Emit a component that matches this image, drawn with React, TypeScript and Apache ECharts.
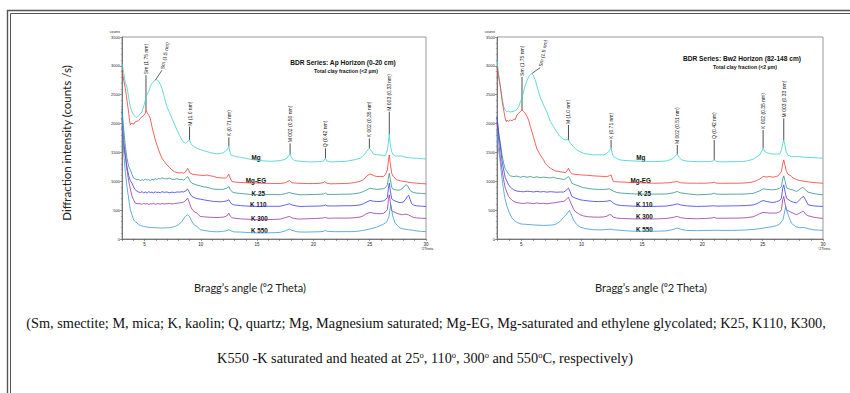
import React, { useEffect, useRef } from "react";
import * as echarts from "echarts";

// ---------- DATA ----------
const panelTitles = ["BDR Series: Ap Horizon (0-20 cm)", "BDR Series: Bw2 Horizon (82-148 cm)"];
const panelSubtitle = "Total clay fraction (<2 µm)";
const seriesNames = ["Mg", "Mg-EG", "K 25", "K 110", "K 300", "K 550"];
const yTicks = [0, 500, 1000, 1500, 2000, 2500, 3000, 3500];
const xTickLabels = [5, 10, 15, 20, 25, 30];

// Panel 1: Ap horizon
const apMg = [[3.0,3040],[3.15,2880],[3.3,2700],[3.44,2637],[3.59,2450],[3.74,2291],[3.89,2200],[4.03,2147],[4.18,2120],[4.33,2107],[4.48,2140],[4.63,2176],[4.77,2200],[4.92,2291],[5.07,2400],[5.13,2464],[5.22,2500],[5.37,2550],[5.51,2640],[5.66,2694],[5.81,2730],[5.96,2752],[6.1,2760],[6.25,2740],[6.4,2680],[6.55,2608],[6.77,2450],[6.99,2291],[7.22,2190],[7.44,2090],[7.66,1990],[7.88,1888],[8.1,1800],[8.32,1716],[8.47,1680],[8.62,1658],[8.83,1690],[9.0,1716],[9.1,1660],[9.21,1629],[9.43,1600],[9.65,1572],[9.95,1550],[10.24,1531],[10.54,1515],[10.84,1497],[11.13,1485],[11.43,1474],[11.73,1480],[12.02,1497],[12.31,1543],[12.49,1600],[12.6,1500],[12.67,1457],[12.91,1439],[13.2,1425],[13.5,1416],[13.95,1400],[14.38,1382],[14.8,1370],[15.27,1359],[15.7,1352],[16.16,1347],[16.6,1350],[17.05,1359],[17.4,1375],[17.64,1399],[17.8,1440],[17.93,1474],[18.05,1410],[18.23,1370],[18.52,1355],[18.82,1347],[19.25,1340],[19.71,1336],[20.15,1338],[20.59,1341],[20.9,1350],[21.07,1399],[21.2,1350],[21.48,1336],[21.9,1338],[22.37,1341],[22.8,1345],[23.26,1359],[23.7,1375],[24.14,1399],[24.44,1440],[24.73,1520],[24.97,1572],[25.18,1520],[25.33,1474],[25.62,1460],[25.92,1457],[26.21,1445],[26.36,1439],[26.5,1500],[26.57,1543],[26.66,1680],[26.74,1819],[26.82,1650],[26.95,1513],[27.1,1460],[27.25,1439],[27.5,1436],[27.84,1439],[28.1,1420],[28.43,1410],[28.8,1402],[29.17,1399],[29.6,1392],[30.0,1387]];
const apMgEG = [[3.0,2925],[3.15,2750],[3.3,2608],[3.44,2400],[3.59,2200],[3.67,2050],[3.74,1975],[3.82,2000],[3.89,2003],[4.03,1990],[4.18,2032],[4.33,2040],[4.48,2049],[4.63,2090],[4.77,2119],[4.92,2140],[5.07,2176],[5.13,2245],[5.22,2190],[5.37,2147],[5.51,2090],[5.66,1946],[5.81,1831],[5.96,1716],[6.1,1630],[6.25,1543],[6.4,1470],[6.55,1399],[6.77,1340],[6.99,1284],[7.22,1240],[7.44,1197],[7.66,1165],[7.88,1151],[8.1,1145],[8.32,1150],[8.47,1140],[8.62,1160],[8.83,1226],[8.95,1180],[9.06,1140],[9.3,1120],[9.65,1111],[9.95,1105],[10.24,1100],[10.54,1108],[10.84,1095],[11.13,1085],[11.43,1065],[11.73,1060],[12.02,1056],[12.17,1054],[12.35,1080],[12.49,1123],[12.6,1060],[12.76,996],[13.1,985],[13.5,979],[14.0,975],[14.38,970],[14.8,972],[15.27,967],[15.7,965],[16.16,963],[16.6,962],[17.05,961],[17.5,975],[17.87,1013],[18.1,975],[18.52,967],[19.0,963],[19.5,961],[20.0,961],[20.5,963],[20.85,975],[21.0,996],[21.15,970],[21.48,956],[22.0,958],[22.37,960],[22.8,962],[23.26,967],[23.7,980],[24.14,1000],[24.44,1025],[24.73,1090],[25.03,1128],[25.33,1100],[25.62,1082],[25.92,1085],[26.21,1082],[26.4,1120],[26.57,1197],[26.66,1350],[26.74,1457],[26.82,1320],[26.95,1140],[27.1,1080],[27.4,1025],[27.8,1005],[28.28,990],[28.7,975],[29.17,967],[29.6,960],[30.0,956]];
const apK25 = [[3.0,2250],[3.15,1900],[3.3,1600],[3.44,1400],[3.59,1260],[3.74,1197],[3.89,1120],[4.03,1054],[4.18,1040],[4.33,1025],[4.48,1030],[4.63,1010],[4.77,1030],[4.92,1015],[5.07,1040],[5.22,1020],[5.37,1030],[5.51,1010],[5.66,1035],[5.81,1025],[5.96,1045],[6.1,1030],[6.25,1050],[6.4,1040],[6.55,1060],[6.77,1045],[6.99,1040],[7.22,1055],[7.44,1035],[7.66,1030],[7.88,1045],[8.1,1030],[8.32,1035],[8.47,1020],[8.62,1040],[8.83,1082],[8.95,1040],[9.06,1000],[9.21,967],[9.43,950],[9.65,935],[9.95,920],[10.24,905],[10.54,895],[10.84,880],[11.13,864],[11.43,860],[11.73,858],[12.02,862],[12.31,880],[12.49,910],[12.6,860],[12.76,820],[12.91,806],[13.2,795],[13.5,790],[13.95,780],[14.38,772],[14.8,770],[15.27,766],[15.7,768],[16.16,770],[16.6,770],[17.05,768],[17.5,785],[17.87,806],[18.1,790],[18.52,775],[18.82,766],[19.3,768],[19.71,770],[20.2,772],[20.59,775],[20.9,780],[21.07,796],[21.2,775],[21.48,772],[21.9,772],[22.37,775],[22.8,776],[23.26,777],[23.7,785],[24.14,800],[24.44,823],[24.73,850],[25.03,881],[25.33,868],[25.62,860],[25.92,864],[26.21,870],[26.4,890],[26.57,938],[26.66,1060],[26.74,1140],[26.82,1050],[26.95,900],[27.04,869],[27.25,852],[27.5,845],[27.7,850],[27.99,890],[28.15,930],[28.28,938],[28.4,910],[28.6,840],[28.87,806],[29.17,795],[29.6,790],[30.0,783]];
const apK110 = [[3.0,2100],[3.15,1700],[3.3,1450],[3.44,1250],[3.59,1100],[3.74,1010],[3.89,967],[4.03,900],[4.18,852],[4.33,830],[4.48,812],[4.63,806],[4.77,820],[4.92,800],[5.07,815],[5.22,795],[5.37,820],[5.51,805],[5.66,812],[5.81,798],[5.96,818],[6.1,805],[6.25,812],[6.4,800],[6.55,820],[6.77,808],[6.99,815],[7.22,800],[7.44,812],[7.66,805],[7.88,815],[8.1,812],[8.32,820],[8.47,815],[8.62,830],[8.83,864],[8.95,820],[9.06,780],[9.21,737],[9.43,715],[9.65,700],[9.95,690],[10.24,680],[10.54,668],[10.84,660],[11.13,651],[11.43,648],[11.73,645],[12.02,650],[12.31,660],[12.49,680],[12.6,640],[12.76,605],[12.91,593],[13.2,585],[13.5,580],[13.95,572],[14.38,568],[14.8,566],[15.27,564],[15.7,566],[16.16,567],[16.6,566],[17.05,568],[17.5,590],[17.87,610],[18.1,590],[18.52,572],[18.82,564],[19.3,566],[19.71,568],[20.2,570],[20.59,572],[20.9,578],[21.07,590],[21.2,575],[21.48,572],[21.9,572],[22.37,574],[22.8,576],[23.26,576],[23.7,580],[24.14,590],[24.44,610],[24.73,640],[25.03,668],[25.33,655],[25.62,650],[25.92,651],[26.21,660],[26.4,680],[26.57,720],[26.66,880],[26.74,967],[26.82,850],[26.95,700],[27.04,680],[27.25,660],[27.5,640],[27.7,630],[27.99,640],[28.2,690],[28.35,740],[28.46,760],[28.6,680],[28.73,610],[28.87,590],[29.17,575],[29.6,568],[30.0,564]];
const apK300 = [[3.0,1950],[3.15,1600],[3.3,1428],[3.44,1200],[3.59,1010],[3.74,870],[3.89,737],[4.03,680],[4.18,622],[4.33,615],[4.48,610],[4.63,612],[4.77,600],[4.92,618],[5.07,605],[5.22,615],[5.37,598],[5.51,612],[5.66,605],[5.81,618],[5.96,600],[6.1,610],[6.25,612],[6.4,602],[6.55,615],[6.77,608],[6.99,610],[7.22,618],[7.44,605],[7.66,615],[7.88,620],[8.1,625],[8.32,630],[8.47,640],[8.62,660],[8.83,708],[9.0,622],[9.1,560],[9.21,520],[9.43,470],[9.65,449],[9.95,391],[10.24,385],[10.54,380],[10.84,376],[11.13,374],[11.43,372],[11.73,375],[12.02,380],[12.31,400],[12.49,449],[12.6,400],[12.76,370],[12.91,363],[13.2,355],[13.5,350],[13.95,345],[14.38,340],[14.8,337],[15.27,334],[15.7,336],[16.16,338],[16.6,340],[17.05,345],[17.5,370],[17.87,391],[18.1,365],[18.52,350],[18.82,345],[19.3,350],[19.71,352],[20.2,355],[20.59,360],[20.9,365],[21.07,374],[21.2,362],[21.48,360],[21.9,362],[22.37,363],[22.8,362],[23.26,363],[23.7,370],[24.14,380],[24.44,403],[24.73,440],[25.03,461],[25.33,449],[25.62,440],[25.92,438],[26.21,445],[26.4,470],[26.57,507],[26.66,680],[26.74,766],[26.82,650],[26.95,490],[27.04,478],[27.25,460],[27.5,440],[27.84,420],[27.99,425],[28.2,430],[28.43,420],[28.7,390],[28.87,375],[29.17,365],[29.6,360],[30.0,357]];
const apK550 = [[3.0,2200],[3.07,1900],[3.15,1485],[3.3,1150],[3.44,910],[3.59,700],[3.74,507],[3.89,420],[4.03,334],[4.18,300],[4.33,280],[4.48,248],[4.63,235],[4.77,225],[4.92,218],[5.22,207],[5.51,200],[5.81,196],[6.1,195],[6.4,190],[6.77,192],[7.22,196],[7.44,205],[7.66,215],[7.88,230],[8.1,260],[8.32,305],[8.47,350],[8.62,390],[8.83,420],[9.0,390],[9.21,300],[9.43,240],[9.65,219],[9.95,161],[10.24,150],[10.54,140],[10.84,132],[11.13,127],[11.43,125],[11.73,128],[12.02,135],[12.31,145],[12.49,161],[12.7,140],[12.91,125],[13.2,121],[13.5,121],[13.95,115],[14.38,110],[14.8,106],[15.27,104],[15.7,106],[16.16,108],[16.6,110],[17.05,115],[17.5,140],[17.87,173],[18.1,150],[18.52,127],[18.82,121],[19.3,120],[19.71,122],[20.2,124],[20.59,126],[20.9,132],[21.07,150],[21.2,135],[21.48,130],[21.9,127],[22.37,127],[22.8,128],[23.26,127],[23.7,130],[24.14,140],[24.44,150],[24.73,161],[25.03,175],[25.33,190],[25.62,205],[25.92,230],[26.21,255],[26.5,290],[26.7,380],[26.86,593],[26.95,520],[27.04,400],[27.25,276],[27.5,230],[27.69,190],[27.99,175],[28.43,161],[28.87,150],[29.17,140],[29.6,132],[30.0,127]];

// Panel 2: Bw2 horizon
const bwMg = [[3.0,3097],[3.14,2850],[3.28,2637],[3.42,2450],[3.55,2291],[3.69,2230],[3.83,2205],[3.96,2215],[4.1,2200],[4.24,2205],[4.38,2215],[4.51,2225],[4.65,2245],[4.79,2290],[4.93,2378],[5.07,2435],[5.2,2560],[5.34,2665],[5.48,2740],[5.62,2809],[5.76,2850],[5.89,2867],[6.03,2830],[6.17,2752],[6.31,2650],[6.44,2550],[6.58,2460],[6.86,2320],[7.13,2200],[7.27,2119],[7.41,2040],[7.68,1946],[7.96,1850],[8.23,1773],[8.51,1730],[8.65,1716],[8.8,1720],[8.92,1716],[9.05,1670],[9.2,1629],[9.34,1600],[9.61,1543],[9.89,1510],[10.16,1485],[10.55,1470],[10.99,1457],[11.4,1460],[11.82,1457],[12.09,1480],[12.23,1513],[12.45,1572],[12.55,1480],[12.64,1428],[12.92,1395],[13.19,1370],[13.6,1360],[14.3,1353],[14.9,1347],[15.4,1345],[15.95,1341],[16.5,1345],[17.0,1352],[17.3,1370],[17.6,1399],[17.93,1474],[18.1,1410],[18.29,1370],[18.7,1350],[19.1,1345],[19.53,1341],[20.0,1340],[20.63,1341],[20.85,1350],[20.99,1370],[21.15,1345],[21.46,1336],[22.0,1338],[22.5,1340],[23.11,1341],[23.66,1350],[24.21,1382],[24.49,1420],[24.77,1457],[25.04,1572],[25.2,1510],[25.32,1497],[25.59,1480],[25.87,1474],[26.14,1470],[26.42,1474],[26.56,1543],[26.66,1650],[26.75,1716],[26.85,1620],[26.97,1497],[27.11,1450],[27.38,1428],[27.8,1425],[28.07,1428],[28.5,1415],[29.17,1410],[29.6,1405],[30.0,1399]];
const bwMgEG = [[3.0,2982],[3.14,2800],[3.28,2637],[3.42,2400],[3.55,2234],[3.69,2080],[3.77,2032],[3.83,2060],[3.96,2040],[4.1,2061],[4.24,2050],[4.38,2075],[4.51,2070],[4.65,2147],[4.79,2180],[4.93,2205],[5.07,2234],[5.2,2210],[5.34,2176],[5.48,2120],[5.62,2061],[5.76,1950],[5.89,1860],[6.03,1760],[6.17,1658],[6.31,1560],[6.58,1457],[6.86,1370],[6.99,1313],[7.27,1250],[7.55,1209],[7.82,1180],[8.1,1169],[8.37,1160],[8.65,1150],[8.8,1180],[8.92,1226],[9.05,1170],[9.2,1130],[9.47,1120],[9.89,1111],[10.4,1105],[10.99,1094],[11.5,1088],[12.09,1082],[12.3,1095],[12.45,1111],[12.55,1040],[12.64,996],[13.0,990],[13.6,985],[14.02,979],[14.7,975],[15.4,970],[15.95,967],[16.6,968],[17.3,975],[17.7,990],[17.93,996],[18.2,975],[18.7,968],[19.53,967],[20.3,967],[20.8,975],[20.99,984],[21.15,968],[21.6,965],[22.3,967],[23.11,967],[23.8,975],[24.21,990],[24.49,1013],[24.77,1040],[25.04,1082],[25.32,1075],[25.59,1082],[25.87,1070],[26.14,1085],[26.28,1094],[26.45,1140],[26.56,1169],[26.66,1300],[26.75,1370],[26.85,1280],[26.97,1169],[27.11,1120],[27.38,1090],[27.52,1054],[27.8,1030],[28.07,1013],[28.35,1005],[28.76,990],[29.17,980],[29.6,972],[30.0,967]];
const bwK25 = [[3.0,2119],[3.14,1850],[3.28,1658],[3.42,1450],[3.55,1313],[3.69,1210],[3.83,1169],[3.96,1120],[4.1,1094],[4.38,1082],[4.65,1090],[4.93,1070],[5.2,1085],[5.48,1070],[5.76,1082],[6.03,1065],[6.31,1078],[6.58,1060],[6.86,1072],[7.13,1065],[7.41,1058],[7.68,1070],[7.96,1050],[8.23,1045],[8.51,1030],[8.65,1040],[8.92,1082],[9.05,1040],[9.2,967],[9.47,940],[9.89,910],[10.16,890],[10.55,875],[10.99,864],[11.4,860],[11.82,858],[12.09,862],[12.3,870],[12.45,852],[12.64,830],[12.92,806],[13.3,795],[14.02,785],[14.7,780],[15.4,777],[16.2,778],[17.0,780],[17.6,800],[17.93,823],[18.2,800],[18.7,785],[19.53,766],[20.3,770],[20.8,780],[20.99,794],[21.15,778],[21.8,775],[22.5,777],[23.11,777],[23.66,780],[24.21,790],[24.49,812],[24.77,835],[25.04,869],[25.32,860],[25.59,855],[25.87,852],[26.14,860],[26.42,880],[26.56,910],[26.66,1040],[26.75,1094],[26.85,1010],[26.97,900],[27.02,881],[27.3,860],[27.52,850],[27.8,823],[28.07,860],[28.22,885],[28.35,892],[28.5,860],[28.76,812],[29.17,790],[29.6,775],[30.0,766]];
const bwK110 = [[3.0,2119],[3.14,1800],[3.28,1600],[3.42,1350],[3.55,1197],[3.69,1060],[3.96,938],[4.1,900],[4.38,852],[4.65,830],[4.93,823],[5.2,818],[5.48,828],[5.76,823],[6.03,815],[6.31,826],[6.58,815],[6.86,822],[7.13,812],[7.41,820],[7.68,815],[7.96,810],[8.23,815],[8.51,812],[8.65,830],[8.92,881],[9.05,820],[9.2,737],[9.47,710],[9.89,679],[10.16,670],[10.55,660],[10.99,651],[11.4,648],[11.82,650],[12.09,655],[12.3,665],[12.45,660],[12.64,620],[12.92,593],[13.3,580],[14.02,572],[14.7,566],[15.4,564],[16.2,566],[17.0,570],[17.6,590],[17.93,610],[18.2,590],[18.7,575],[19.53,564],[20.3,568],[20.8,573],[20.99,576],[21.15,570],[21.8,572],[22.5,574],[23.11,576],[23.66,580],[24.21,590],[24.49,610],[24.77,640],[25.04,668],[25.32,650],[25.59,640],[25.87,633],[26.14,645],[26.42,668],[26.56,708],[26.66,880],[26.75,938],[26.85,830],[26.97,708],[27.02,708],[27.3,660],[27.52,640],[27.8,622],[28.07,680],[28.25,720],[28.4,737],[28.55,680],[28.76,593],[29.17,575],[29.6,568],[30.0,564]];
const bwK300 = [[3.0,2032],[3.14,1700],[3.28,1400],[3.42,1200],[3.55,1025],[3.69,880],[3.96,737],[4.1,700],[4.38,650],[4.65,630],[4.93,622],[5.2,615],[5.48,625],[5.76,620],[6.03,612],[6.31,625],[6.58,615],[6.86,618],[7.13,610],[7.41,620],[7.68,625],[7.96,635],[8.23,645],[8.51,651],[8.65,670],[8.92,725],[9.0,680],[9.12,622],[9.34,520],[9.47,478],[9.89,420],[10.16,400],[10.55,385],[10.99,380],[11.4,378],[11.82,382],[12.09,395],[12.3,420],[12.45,420],[12.64,375],[12.92,363],[13.3,355],[14.02,350],[14.7,347],[15.4,346],[16.2,348],[17.0,355],[17.6,375],[17.93,391],[18.2,370],[18.7,355],[19.53,351],[20.3,355],[20.8,365],[20.99,374],[21.15,360],[21.8,360],[22.5,362],[23.11,363],[23.66,370],[24.21,385],[24.49,410],[24.77,440],[25.04,461],[25.32,455],[25.59,449],[25.87,449],[26.14,450],[26.42,470],[26.56,507],[26.66,680],[26.75,737],[26.85,620],[26.97,507],[27.02,507],[27.3,470],[27.52,449],[27.8,420],[28.07,450],[28.25,470],[28.4,478],[28.55,430],[28.76,403],[29.17,380],[29.6,365],[30.0,357]];
const bwK550 = [[3.0,1888],[3.08,1600],[3.22,1428],[3.36,1150],[3.5,910],[3.66,700],[3.83,564],[4.03,450],[4.24,363],[4.45,320],[4.65,288],[5.0,260],[5.34,255],[5.76,248],[6.31,240],[6.86,236],[7.41,240],[7.82,250],[8.23,305],[8.5,370],[8.84,449],[9.0,495],[9.12,440],[9.34,330],[9.6,250],[9.89,207],[10.3,180],[10.99,161],[11.6,158],[12.09,165],[12.45,170],[12.64,160],[13.2,150],[14.02,138],[14.7,135],[15.4,132],[16.2,135],[17.0,140],[17.6,165],[17.93,190],[18.2,170],[18.7,148],[19.53,145],[20.3,148],[20.91,150],[21.15,152],[21.8,148],[22.5,150],[23.11,152],[23.66,158],[24.21,165],[24.77,180],[25.04,190],[25.59,205],[26.14,230],[26.42,260],[26.69,340],[26.91,564],[27.02,480],[27.11,420],[27.38,276],[27.52,250],[27.8,210],[28.07,195],[28.4,200],[28.76,180],[29.17,160],[29.6,155],[30.0,150]];

// peak markers: label, 2θ, value at peak, value at top of the marker line
const apPeaks = [
  ["Sm (1.75 nm)", 5.13, 2245, 2838],
  ["M (1.0 nm)", 9.0, 1716, 1946],
  ["K (0.71 nm)", 12.49, 1600, 1762],
  ["M 002 (0.50 nm)", 17.93, 1474, 1658],
  ["Q (0.42 nm)", 21.07, 1399, 1572],
  ["K 002 (0.35 nm)", 24.97, 1572, 1744],
  ["M 003 (0.33 nm)", 26.74, 1819, 2205],
];
const bwPeaks = [
  ["Sm (1.75 nm)", 5.07, 2234, 2809],
  ["M (1.0 nm)", 8.92, 1716, 1975],
  ["K (0.71 nm)", 12.45, 1572, 1716],
  ["M 002 (0.51 nm)", 17.93, 1474, 1629],
  ["Q (0.42 nm)", 20.99, 1370, 1716],
  ["K 002 (0.35 nm)", 25.04, 1572, 1888],
  ["M 003 (0.33 nm)", 26.75, 1716, 2090],
];
// leader-line peak: label, peak 2θ, peak value, text 2θ, text value
const apSm15 = ["Sm (1.5 nm)", 5.96, 2752, 6.55, 2925];
const bwSm15 = ["Sm (1.5 nm)", 5.89, 2867, 6.58, 2970];

// where the series names sit (2θ, counts)
const apNamePos = [[14.9, 1416], [14.9, 1013], [15.1, 795], [15.1, 605], [15.2, 363], [15.2, 144]];
const bwNamePos = [[14.9, 1410], [14.9, 1013], [15.2, 795], [15.2, 605], [15.2, 385], [15.2, 170]];

const colors = ["#3fcfcf", "#f43a3a", "#2f9484", "#3a3af2", "#9b369f", "#3a9bd6"];

const captionLine1 = "(Sm, smectite; M, mica; K, kaolin; Q, quartz; Mg, Magnesium saturated; Mg-EG, Mg-saturated and ethylene glycolated; K25, K110, K300,";

export default function App() {
  const ref = useRef<HTMLDivElement>(null);
  useEffect(() => {
    document.body.style.margin = "0";
    const chart = echarts.init(ref.current!, null, { renderer: "svg" });
    const sans = "Liberation Sans";
    const panels = [
      { data: [apMg, apMgEG, apK25, apK110, apK300, apK550], peaks: apPeaks, sm: apSm15, names: apNamePos },
      { data: [bwMg, bwMgEG, bwK25, bwK110, bwK300, bwK550], peaks: bwPeaks, sm: bwSm15, names: bwNamePos },
    ];
    const grids = [
      { left: 122, top: 37, width: 304, height: 202 },
      { left: 497, top: 37, width: 326, height: 202 },
    ];
    const xAxes = grids.map((_, i) => ({
      type: "value", gridIndex: i, min: 3, max: 30, interval: 1,
      axisLine: { lineStyle: { color: "#777", width: 1 } },
      axisTick: { length: 2, lineStyle: { color: "#555", width: 0.6 } },
      splitLine: { show: false },
      axisLabel: {
        interval: 0, fontSize: 4.5, color: "#222", margin: 3, fontFamily: sans,
        formatter: (v: number) => (xTickLabels.indexOf(v) >= 0 ? String(v) : ""),
      },
    }));
    const yAxes = grids.map((_, i) => ({
      type: "value", gridIndex: i, min: 0, max: 3500, interval: 500,
      axisLine: { show: true, lineStyle: { color: "#777", width: 1 } },
      axisTick: { show: true, length: 2, lineStyle: { color: "#555", width: 0.6 } },
      minorTick: { show: true, splitNumber: 5, length: 1.2, lineStyle: { color: "#777", width: 0.5 } },
      splitLine: { show: false },
      axisLabel: { fontSize: 4, color: "#222", margin: 2, fontFamily: sans,
        formatter: (v: number) => (yTicks.indexOf(v) >= 0 ? String(v) : "") },
    }));
    const series: any[] = [];
    panels.forEach((p, pi) => {
      p.data.forEach((d, si) => {
        series.push({
          type: "line", name: seriesNames[si] + pi, xAxisIndex: pi, yAxisIndex: pi, data: d,
          symbol: "none", showSymbol: false, silent: true,
          lineStyle: { width: 0.8, color: colors[si] },
        });
      });
    });
    chart.setOption({
      animation: false,
      backgroundColor: "#fff",
      grid: grids.map((g) => ({ ...g, show: true, borderColor: "#999", borderWidth: 1, backgroundColor: "transparent" })),
      xAxis: xAxes,
      yAxis: yAxes,
      series,
    });

    const g: any[] = [];
    // page frame (double line)
    g.push({ type: "rect", shape: { x: 7.5, y: 10.5, width: 900, height: 500 }, style: { fill: "none", stroke: "#555", lineWidth: 1.4 }, silent: true });
    g.push({ type: "rect", shape: { x: 10.5, y: 13.5, width: 900, height: 500 }, style: { fill: "none", stroke: "#555", lineWidth: 1 }, silent: true });

    panels.forEach((p, pi) => {
      const px = (x: number, y: number) => chart.convertToPixel({ gridIndex: pi } as any, [x, y]) as number[];
      const cx = pi === 0 ? 343 : 742;
      g.push({ type: "text", x: cx, y: pi === 0 ? 62 : 58, style: { text: panelTitles[pi], font: `bold 6.6px ${sans}`, fill: "#111", align: "center", verticalAlign: "middle" } });
      g.push({ type: "text", x: cx + 3, y: pi === 0 ? 71 : 67, style: { text: panelSubtitle, font: `bold 5.2px ${sans}`, fill: "#111", align: "center", verticalAlign: "middle" } });
      const top = px(3, 3500);
      g.push({ type: "text", x: top[0] - 2, y: top[1] - 3, style: { text: "counts", font: `3.5px ${sans}`, fill: "#222", align: "right", verticalAlign: "bottom" } });
      const end = px(30, 0);
      g.push({ type: "text", x: end[0] + 1, y: end[1] + 8, style: { text: "°2Theta", font: `3.5px ${sans}`, fill: "#222", align: "center", verticalAlign: "top" } });
      p.peaks.forEach((m: any) => {
        const a = px(m[1], m[2]);
        const b = px(m[1], m[3]);
        g.push({ type: "line", shape: { x1: a[0], y1: a[1], x2: b[0], y2: b[1] }, style: { stroke: "#222", lineWidth: 0.8 }, silent: true });
        g.push({ type: "text", x: b[0], y: b[1] - 1, rotation: Math.PI / 2, style: { text: m[0], font: `5px ${sans}`, fill: "#111", align: "left", verticalAlign: "middle" } });
      });
      const s: any = p.sm;
      const a = px(s[1], s[2]);
      const b = px(s[3], s[4]);
      g.push({ type: "line", shape: { x1: a[0], y1: a[1], x2: b[0], y2: b[1] }, style: { stroke: "#222", lineWidth: 0.7 }, silent: true });
      g.push({ type: "text", x: b[0], y: b[1] - 1, rotation: Math.PI / 2 - 0.2, style: { text: s[0], font: `5px ${sans}`, fill: "#111", align: "left", verticalAlign: "middle" } });
      p.names.forEach((n: number[], si: number) => {
        const q = px(n[0], n[1]);
        g.push({ type: "text", x: q[0], y: q[1], style: { text: seriesNames[si], font: `bold 6.3px ${sans}`, fill: "#111", align: "center", verticalAlign: "middle" } });
      });
      g.push({ type: "text", x: pi === 0 ? 250 : 651, y: 287, style: { text: "Bragg’s angle (⁰2 Theta)", font: `11px Lato`, fill: "#222", align: "center", verticalAlign: "middle" } });
    });
    g.push({ type: "text", x: 66, y: 143, rotation: Math.PI / 2, style: { text: "Diffraction intensity (counts /s)", font: `11.5px Lato`, fill: "#222", align: "center", verticalAlign: "middle" } });
    g.push({ type: "text", x: 426, y: 323, style: { text: captionLine1, font: `14.3px "Liberation Serif"`, fill: "#111", align: "center", verticalAlign: "middle" } });
    g.push({
      type: "text", x: 425, y: 358,
      style: {
        text: "K550 -K saturated and heated at 25{s|o}, 110{s|o}, 300{s|o} and 550{s|o}C, respectively)",
        font: `14.3px "Liberation Serif"`, fill: "#111", align: "center", verticalAlign: "middle",
        rich: { s: { fontSize: 8.5, fontFamily: "Liberation Serif", verticalAlign: "top", padding: [0, 0, 6, 0], fill: "#111" } },
      },
    });
    chart.setOption({ graphic: g });
    return () => chart.dispose();
  }, []);
  return <div ref={ref} style={{ width: 850, height: 393 }} />;
}
